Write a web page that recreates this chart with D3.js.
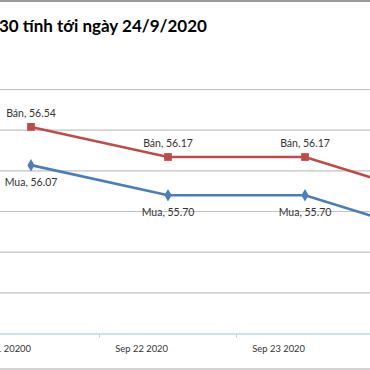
<!DOCTYPE html>
<html>
<head>
<meta charset="utf-8">
<script src="https://cdn.jsdelivr.net/npm/d3@7"></script>
<style>
  body { margin: 0; background: #fff; overflow: hidden; }
  svg { display: block; font-family: Lato, "Open Sans", sans-serif; }
</style>
</head>
<body>
<div id="chart"></div>
<script>
// data
const days = ["Sep 21 20200", "Sep 22 2020", "Sep 23 2020", "Sep 24 2020"];
const ban = [56.54, 56.17, 56.17, 55.65];
const mua = [56.07, 55.70, 55.70, 55.18];
const yTicks = [54.5, 55, 55.5, 56, 56.5, 57];
const titleText = "30 tính tới ngày 24/9/2020";

const width = 370, height = 370;

const svg = d3.select("#chart")
    .append("svg")
    .attr("width", width)
    .attr("height", height);

// chart frame lines
svg.append("line").attr("x1", 0).attr("x2", width).attr("y1", 1).attr("y2", 1)
    .attr("stroke", "#9a9a9a").attr("stroke-width", 2);
svg.append("line").attr("x1", 0).attr("x2", width).attr("y1", 369).attr("y2", 369)
    .attr("stroke", "#c4c4c4").attr("stroke-width", 1.5);

svg.append("text")
    .attr("x", -1)
    .attr("y", 32)
    .attr("font-size", 17)
    .attr("font-weight", "bold")
    .attr("fill", "#000")
    .text(titleText);

let x = d3.scaleBand(days, [-37.5, 510.5]);
let y = d3.scaleLinear([54, 57], [333.5, 89.5]);

// gridlines
svg.append("g")
    .selectAll("line")
    .data(yTicks)
    .join("line")
    .attr("x1", 0)
    .attr("x2", width)
    .attr("y1", d => y(d))
    .attr("y2", d => y(d))
    .attr("stroke", "#c2c2c2")
    .attr("stroke-width", 1.2);

// x axis
const xAxis = svg.append("g")
    .attr("transform", `translate(0,${y(54)})`)
    .call(d3.axisBottom(x).tickSize(0).tickFormat(""));
xAxis.select(".domain").attr("stroke", "#8ccfd0").attr("stroke-width", 1.2);

svg.append("g")
    .selectAll("line")
    .data(days.slice(1))
    .join("line")
    .attr("x1", d => x(d))
    .attr("x2", d => x(d))
    .attr("y1", y(54))
    .attr("y2", y(54) + 4)
    .attr("stroke", "#cfcfcf");

const cx = d => x(d) + x.bandwidth() / 2;

svg.append("g")
    .selectAll("text")
    .data(days)
    .join("text")
    .attr("x", d => cx(d))
    .attr("y", 352)
    .attr("text-anchor", "end")
    .attr("font-size", 9.4)
    .attr("fill", "#333")
    .text(d => d);

const series = [
    { name: "Bán", values: ban, color: "#be4b48", above: true },
    { name: "Mua", values: mua, color: "#4a7ebb", above: false }
];

series.forEach(s => {
    const pts = days.map((d, i) => [cx(d), y(s.values[i])]);
    svg.append("path")
        .attr("d", d3.line()(pts))
        .attr("fill", "none")
        .attr("stroke", s.color)
        .attr("stroke-width", 2.6);

    const sym = s.above ? d3.symbolSquare : d3.symbolDiamond;
    svg.append("g")
        .selectAll("path")
        .data(pts)
        .join("path")
        .attr("transform", d => `translate(${d[0]},${d[1]})`)
        .attr("d", d3.symbol(sym, s.above ? 60 : 45))
        .attr("fill", s.color);

    svg.append("g")
        .selectAll("text")
        .data(days)
        .join("text")
        .attr("x", d => cx(d))
        .attr("y", (d, i) => y(s.values[i]) + (s.above ? -10 : 21))
        .attr("text-anchor", "middle")
        .attr("font-size", 10.5)
        .attr("fill", "#333")
        .text((d, i) => `${s.name}, ${s.values[i].toFixed(2)}`);
});
</script>
</body>
</html>
